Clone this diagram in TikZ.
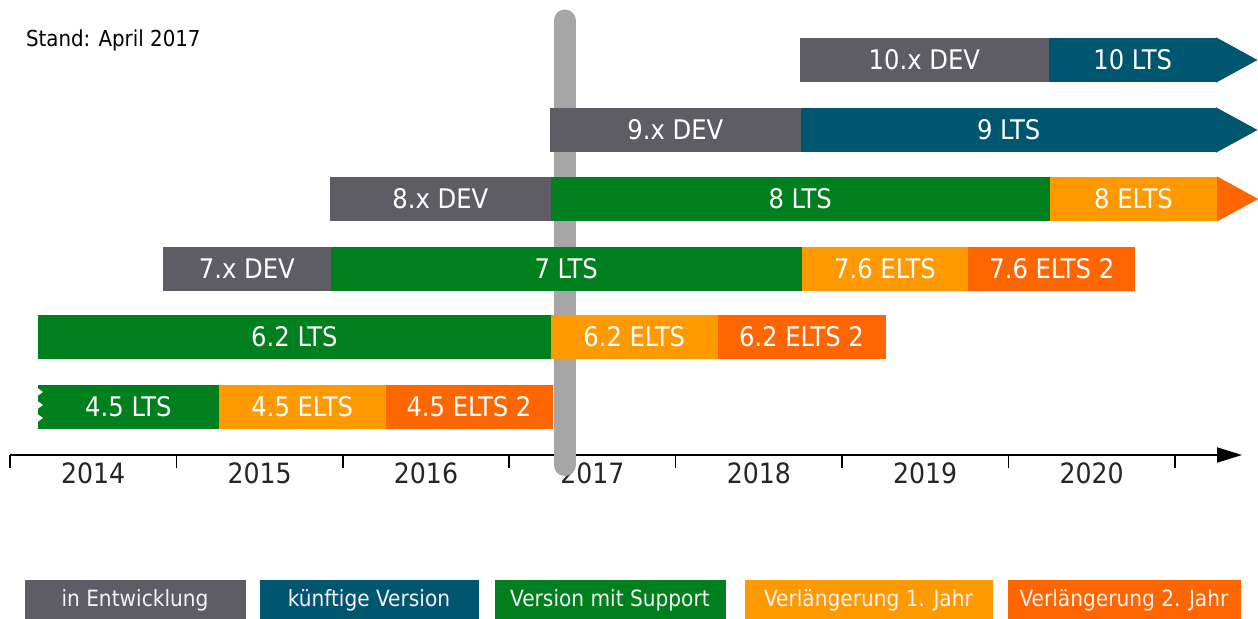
\documentclass[tikz,border=0pt]{standalone}
\usepackage{fontspec}
\setmainfont{DejaVu Sans Condensed}
\usetikzlibrary{positioning,arrows.meta}
\definecolor{devgray}{HTML}{5E5D66}
\definecolor{future}{HTML}{00566F}
\definecolor{support}{HTML}{007F1F}
\definecolor{ext1}{HTML}{FF9900}
\definecolor{ext2}{HTML}{FF6600}
\definecolor{today}{HTML}{A6A6A6}
\begin{document}
\begin{tikzpicture}[x=0.5pt,y=-0.5pt]
        % Styles
        \tikzstyle{bar}=[anchor=west,inner sep=0pt,minimum height=21.5pt,line width=0.4pt,text=white,font=\fontsize{13.5}{15}\selectfont]
        \tikzstyle{dev}=[fill=devgray,draw=devgray]
        \tikzstyle{fut}=[fill=future,draw=future]
        \tikzstyle{sup}=[fill=support,draw=support]
        \tikzstyle{eone}=[fill=ext1,draw=ext1]
        \tikzstyle{etwo}=[fill=ext2,draw=ext2]
        \tikzstyle{year}=[text=black!85,font=\fontsize{14}{16}\selectfont]
        \tikzstyle{legend}=[inner sep=0pt,minimum height=20pt,text=white!95!black,font=\fontsize{11.2}{13}\selectfont]
        \useasboundingbox (0,0) rectangle (1258,619);
        %The graphic
        \node[anchor=west,font=\fontsize{11}{13}\selectfont] (stand) at (19,40) {Stand: April 2017};
        %axis
        \draw[line width=1pt,-{Triangle[length=12.5pt,width=7.5pt]}] (10,455) -- (1242,455);
        \foreach \k in {0,...,7}
        \draw[line width=0.8pt] (10+166.4*\k,455) -- ++(0,13);
        \foreach \yr [count=\k from 0] in {2014,...,2020}
        \node[year] (y\yr) at (93.2+166.4*\k,473) {\yr};
        %today
        \draw[line width=11pt,line cap=round,today] (564.5,20.5) -- (564.5,465);
        %versions
        \node[bar,dev,minimum width=124pt] (dev10) at (800,60) {10.x DEV};
        \node[bar,fut,minimum width=83.5pt,right=0pt of dev10] (lts10) {10 LTS};
        \filldraw[fut,line width=0.4pt] (lts10.north east) -- ([xshift=20pt]lts10.east) -- (lts10.south east) -- cycle;
        \node[bar,dev,minimum width=125pt] (dev9) at (550,130) {9.x DEV};
        \node[bar,fut,minimum width=207.5pt,right=0pt of dev9] (lts9) {9 LTS};
        \filldraw[fut,line width=0.4pt] (lts9.north east) -- ([xshift=20pt]lts9.east) -- (lts9.south east) -- cycle;
        \node[bar,dev,minimum width=110pt] (dev8) at (330,199) {8.x DEV};
        \node[bar,sup,minimum width=249pt,right=0pt of dev8] (lts8) {8 LTS};
        \node[bar,eone,minimum width=83.5pt,right=0pt of lts8] (elts8) {8 ELTS};
        \filldraw[etwo,line width=0.4pt] (elts8.north east) -- ([xshift=20pt]elts8.east) -- (elts8.south east) -- cycle;
        \node[bar,dev,minimum width=83.5pt] (dev7) at (163,268.5) {7.x DEV};
        \node[bar,sup,minimum width=235pt,right=0pt of dev7] (lts7) {7 LTS};
        \node[bar,eone,minimum width=83pt,right=0pt of lts7] (elts76) {7.6 ELTS};
        \node[bar,etwo,minimum width=83pt,right=0pt of elts76] (eltsb76) {7.6 ELTS 2};
        \node[bar,sup,minimum width=256pt] (lts62) at (38,337) {6.2 LTS};
        \node[bar,eone,minimum width=83pt,right=0pt of lts62] (elts62) {6.2 ELTS};
        \node[bar,etwo,minimum width=83.5pt,right=0pt of elts62] (eltsb62) {6.2 ELTS 2};
        \node[bar,sup,minimum width=90pt] (lts45) at (38,406.5) {4.5 LTS};
        \node[bar,eone,minimum width=83pt,right=0pt of lts45] (elts45) {4.5 ELTS};
        \node[bar,etwo,minimum width=83pt,right=0pt of elts45] (eltsb45) {4.5 ELTS 2};
        \foreach \yy in {392,405,418}
        \fill[white] (36,\yy-5) -- (43,\yy) -- (36,\yy+5) -- cycle;
        %legend
        \node[legend,dev,minimum width=110pt] (legdev) at (135,600) {in Entwicklung};
        \node[legend,fut,minimum width=109pt] (legfuture) at (369,600) {künftige Version};
        \node[legend,sup,minimum width=115pt] (legsupport) at (610,600) {Version mit Support};
        \node[legend,eone,minimum width=123.5pt] (legext1) at (868.5,600) {Verlängerung 1. Jahr};
        \node[legend,etwo,minimum width=116pt] (legext2) at (1124,600) {Verlängerung 2. Jahr};
\end{tikzpicture}
\end{document}
